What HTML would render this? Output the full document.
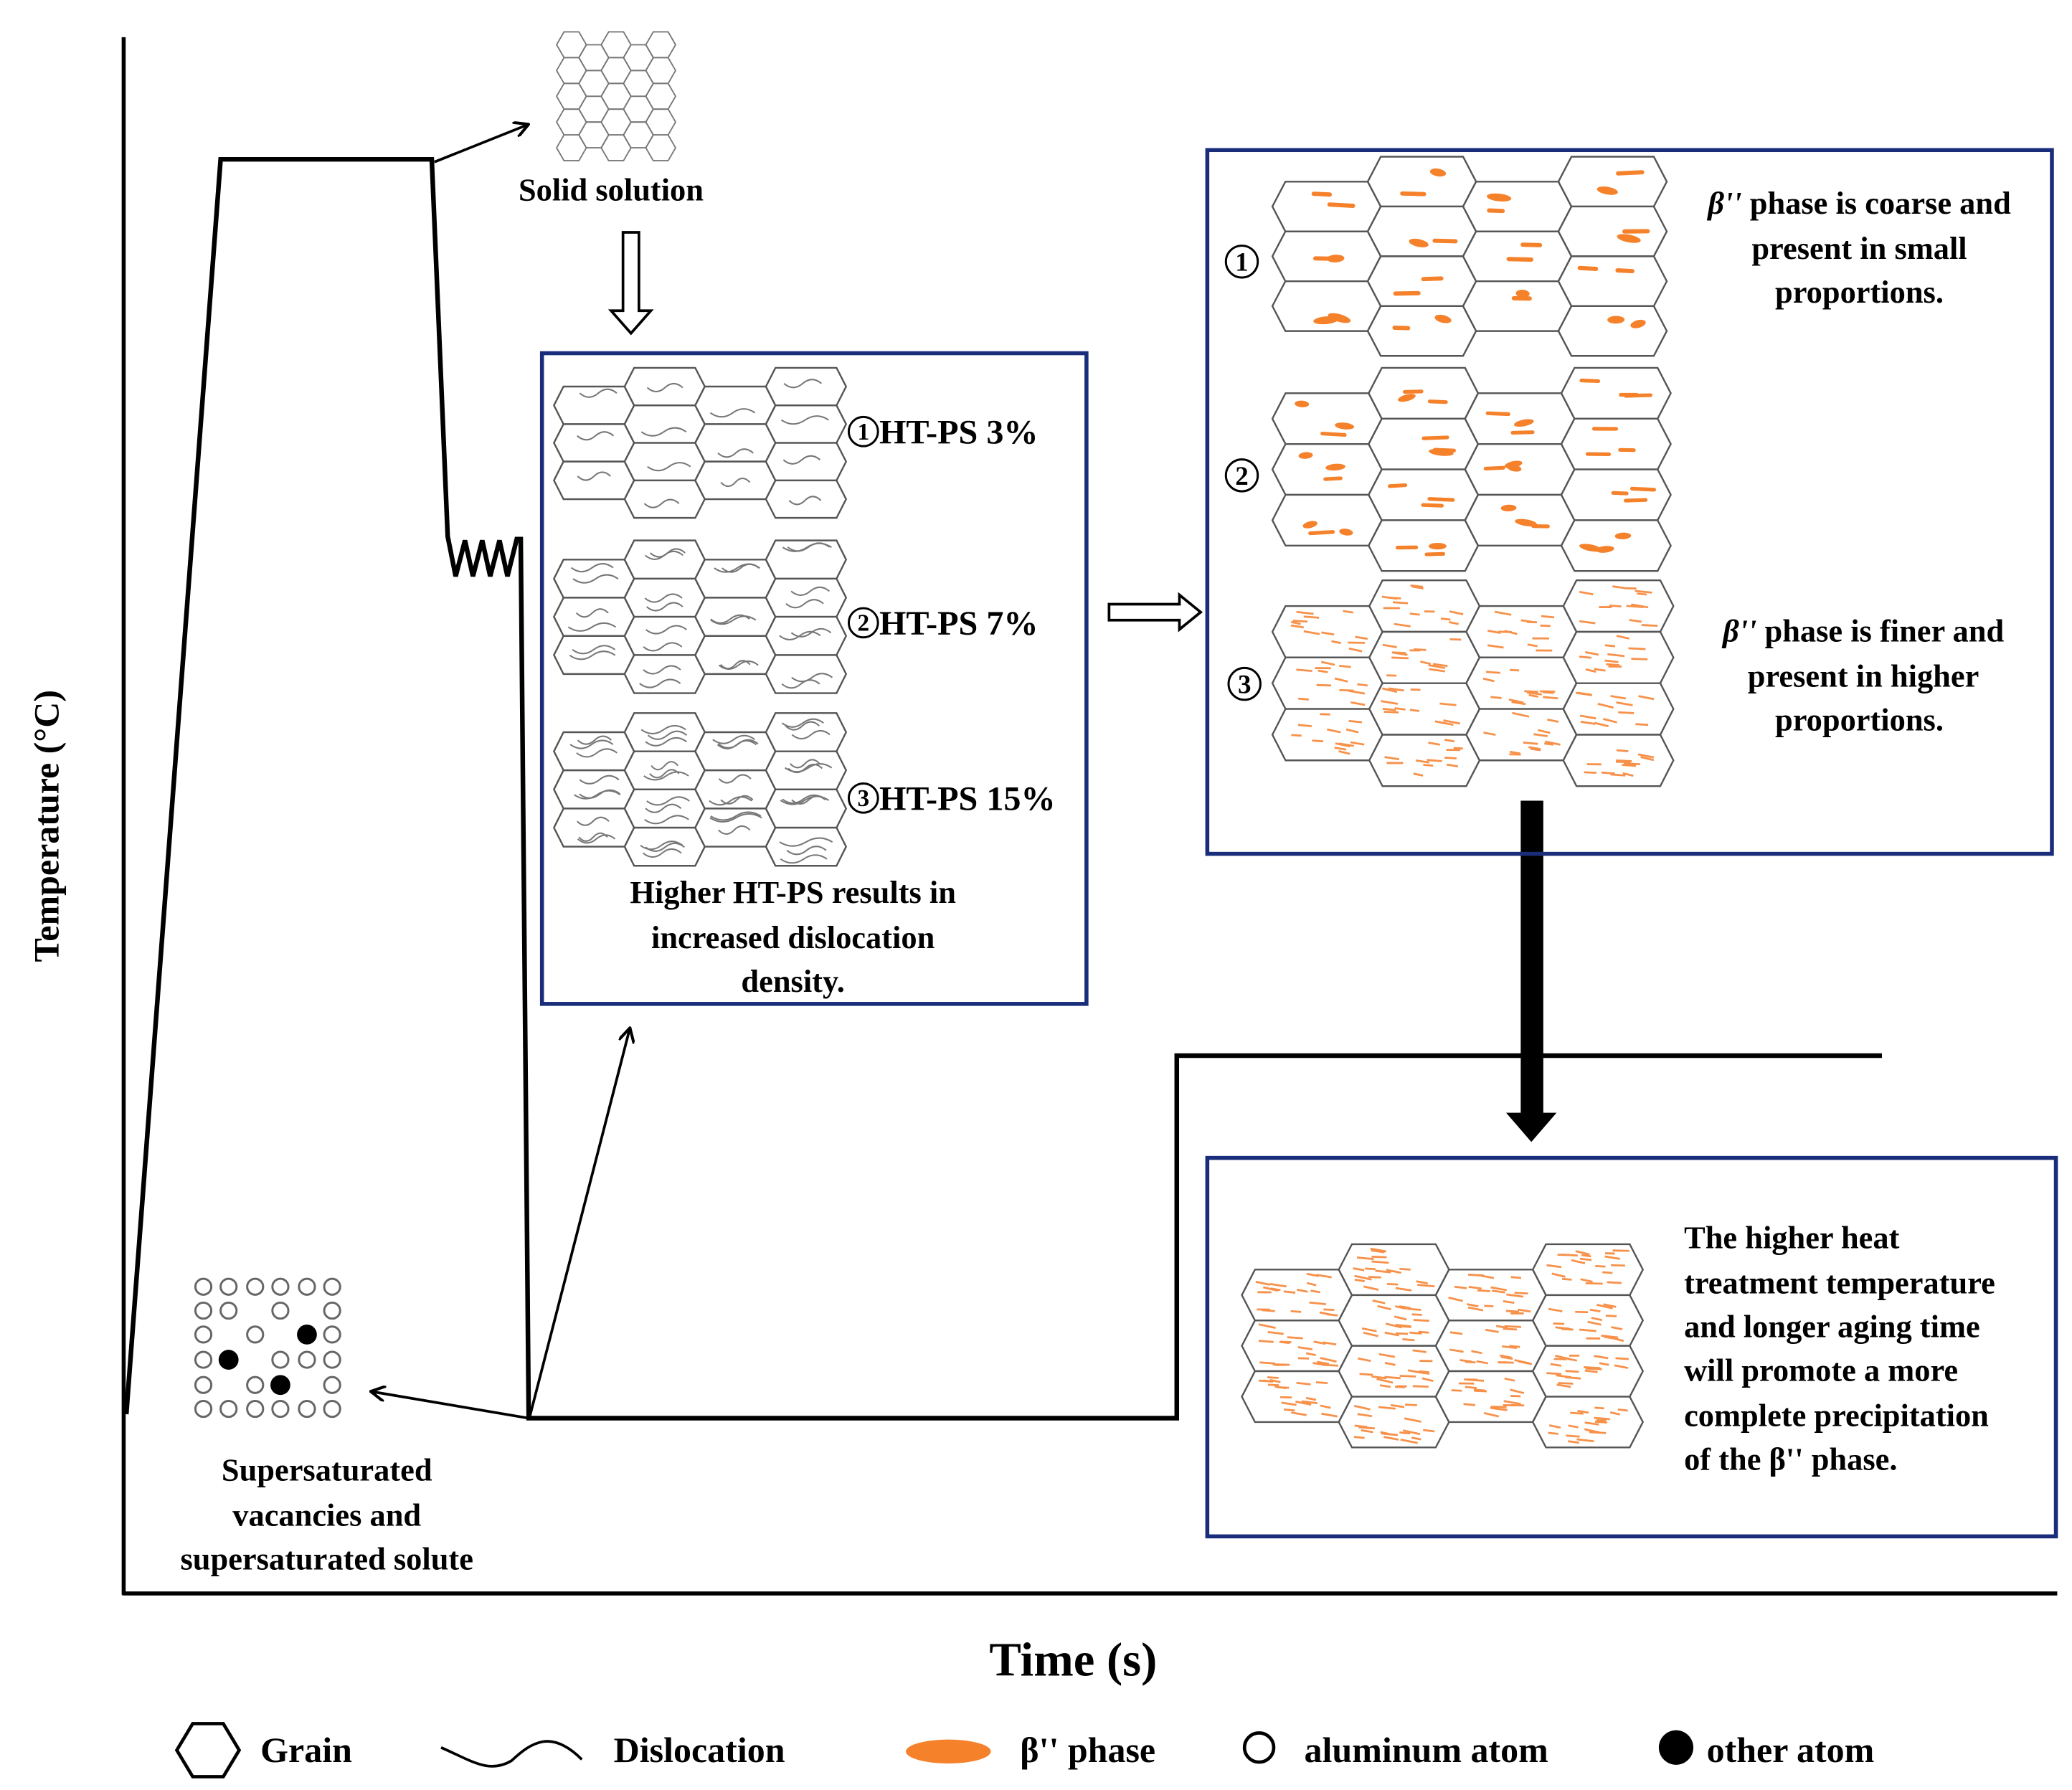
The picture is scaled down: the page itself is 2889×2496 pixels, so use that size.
<!DOCTYPE html>
<html><head><meta charset="utf-8"><style>
html,body{margin:0;padding:0;background:#fff;}
svg{display:block;}
text{font-family:"Liberation Serif",serif;font-weight:bold;fill:#000;}
</style></head><body>
<svg id="s" xmlns="http://www.w3.org/2000/svg" width="2889" height="2496" viewBox="0 0 1560 1348">
<defs>
<marker id="ah" markerWidth="12" markerHeight="12" refX="10" refY="6" orient="auto" markerUnits="userSpaceOnUse"><path d="M0,0 L11,6 L0,12" fill="none" stroke="#000" stroke-width="2.2"/></marker>
</defs>
<rect width="1560" height="1348" fill="#fff"/>
<line x1="93" y1="28" x2="93" y2="1201" stroke="#000" stroke-width="3"/>
<line x1="92" y1="1200" x2="1549" y2="1200" stroke="#000" stroke-width="3"/>
<polyline points="95,1065 166,120 325,120 337,404 343,434 350,407 356,434 363,407 369,434 376,407 382,434 389,406 392,406 398,1068 886,1068 886,795 1417,795" fill="none" stroke="#000" stroke-width="3.5" stroke-linejoin="miter"/>
<line x1="327" y1="122" x2="397" y2="94" stroke="#000" stroke-width="2" marker-end="url(#ah)"/>
<line x1="399" y1="1066" x2="474" y2="775" stroke="#000" stroke-width="2" marker-end="url(#ah)"/>
<line x1="398" y1="1068" x2="280" y2="1048" stroke="#000" stroke-width="2" marker-end="url(#ah)"/>
<path d="M469,175 L481,175 L481,234 L490,234 L475,251 L460,234 L469,234 Z" fill="#fff" stroke="#000" stroke-width="2"/>
<path d="M835,455 L888,455 L888,448 L904,461 L888,474 L888,467 L835,467 Z" fill="#fff" stroke="#000" stroke-width="2"/>
<path d="M1145,603 L1162,603 L1162,838 L1172,838 L1153,860 L1134,838 L1145,838 Z" fill="#000"/>
<rect x="408" y="266" width="410" height="490" fill="none" stroke="#1a2d7a" stroke-width="3"/>
<rect x="909" y="113" width="636" height="530" fill="none" stroke="#1a2d7a" stroke-width="3"/>
<rect x="909" y="872" width="639" height="285" fill="none" stroke="#1a2d7a" stroke-width="3"/>
<g id="dyn"></g>
<text x="460" y="151" font-size="24" text-anchor="middle">Solid solution</text>
<g fill="none" stroke="#000" stroke-width="1.6">
<circle cx="650" cy="325" r="11"/><circle cx="650" cy="469" r="11"/><circle cx="650" cy="601" r="11"/>
<circle cx="935" cy="197" r="12"/><circle cx="935" cy="358" r="12"/><circle cx="937" cy="515" r="12"/>
</g>
<g font-size="18" text-anchor="middle">
<text x="650" y="331" font-weight="normal">1</text><text x="650" y="475" font-weight="normal">2</text><text x="650" y="607" font-weight="normal">3</text>
<text x="935" y="204" font-weight="normal" font-size="20">1</text><text x="935" y="365" font-weight="normal" font-size="20">2</text><text x="937" y="522" font-weight="normal" font-size="20">3</text>
</g>
<text x="662" y="334" font-size="26">HT-PS 3%</text>
<text x="662" y="478" font-size="26">HT-PS 7%</text>
<text x="662" y="610" font-size="26">HT-PS 15%</text>
<text x="597" y="680" font-size="24" text-anchor="middle">Higher HT-PS results in</text>
<text x="597" y="714" font-size="24" text-anchor="middle">increased dislocation</text>
<text x="597" y="747" font-size="24" text-anchor="middle">density.</text>
<text x="1400" y="161" font-size="24" text-anchor="middle"><tspan font-style="italic">β''</tspan> phase is coarse and</text>
<text x="1400" y="195" font-size="24" text-anchor="middle">present in small</text>
<text x="1400" y="228" font-size="24" text-anchor="middle">proportions.</text>
<text x="1403" y="483" font-size="24" text-anchor="middle"><tspan font-style="italic">β''</tspan> phase is finer and</text>
<text x="1403" y="517" font-size="24" text-anchor="middle">present in higher</text>
<text x="1400" y="550" font-size="24" text-anchor="middle">proportions.</text>
<text x="1268" y="940" font-size="24">The higher heat</text>
<text x="1268" y="974" font-size="24">treatment temperature</text>
<text x="1268" y="1007" font-size="24">and longer aging time</text>
<text x="1268" y="1040" font-size="24">will promote a more</text>
<text x="1268" y="1074" font-size="24">complete precipitation</text>
<text x="1268" y="1107" font-size="24">of the β'' phase.</text>
<text x="246" y="1115" font-size="24" text-anchor="middle">Supersaturated</text>
<text x="246" y="1149" font-size="24" text-anchor="middle">vacancies and</text>
<text x="246" y="1182" font-size="24" text-anchor="middle">supersaturated solute</text>
<text x="808" y="1262" font-size="36" text-anchor="middle">Time (s)</text>
<text transform="translate(44,622) rotate(-90)" font-size="27" text-anchor="middle">Temperature (°C)</text>
<path d="M145,1298 L168,1298 L180,1318 L168,1338 L145,1338 L133,1318 Z" fill="none" stroke="#000" stroke-width="2.5"/>
<text x="196" y="1327" font-size="27">Grain</text>
<path d="M332,1316 C355,1326 368,1336 385,1326 C400,1312 415,1302 438,1325" fill="none" stroke="#000" stroke-width="2"/>
<text x="462" y="1327" font-size="27">Dislocation</text>
<ellipse cx="714" cy="1319" rx="32" ry="9" fill="#f5812b"/>
<text x="768" y="1327" font-size="27">β'' phase</text>
<circle cx="948" cy="1316" r="11" fill="none" stroke="#000" stroke-width="2.5"/>
<text x="982" y="1327" font-size="27">aluminum atom</text>
<circle cx="1262" cy="1316" r="13" fill="#000"/>
<text x="1285" y="1327" font-size="27">other atom</text>
</svg>
<script>
(function(){
var g=document.getElementById('dyn'),out=[];
var seed=7;function r(){seed=(seed*16807)%2147483647;return seed/2147483647;}
function hexPts(x,y,w,h,d){return [x+d,y,x+w-d,y,x+w,y+h/2,x+w-d,y+h,x+d,y+h,x,y+h/2].map(function(v){return v.toFixed(1)}).join(' ');}
function grid(x0,y0,W,H,fill){
 var h=H/4,p=W/4.136,w=1.136*p,d=w-p,cells=[];
 for(var c=0;c<4;c++){var n=c%2?4:3,yy=y0+(c%2?0:h/2);
  for(var i=0;i<n;i++){var x=x0+c*p,y=yy+i*h;cells.push([x,y,w,h,d]);
   out.push('<polygon points="'+hexPts(x,y,w,h,d)+'" fill="#fff" stroke="#555" stroke-width="1.3"/>');}}
 cells.forEach(function(k){fill(k[0],k[1],k[2],k[3],k[4]);});
}
function coarse(n,th){return function(x,y,w,h,d){for(var i=0;i<n;i++){var cx=x+d+10+r()*(w-2*d-20),cy=y+7+r()*(h-14),l=10+r()*9,a=(r()-0.5)*0.8;
 if(r()<0.5){out.push('<ellipse cx="'+cx.toFixed(1)+'" cy="'+cy.toFixed(1)+'" rx="'+(l/2).toFixed(1)+'" ry="'+(th*0.9).toFixed(1)+'" transform="rotate('+(a*40).toFixed(0)+' '+cx.toFixed(1)+' '+cy.toFixed(1)+')" fill="#f5812b"/>');}
 else out.push('<line x1="'+(cx-l/2).toFixed(1)+'" y1="'+cy.toFixed(1)+'" x2="'+(cx+l/2).toFixed(1)+'" y2="'+(cy+l/2*a*0.3).toFixed(1)+'" stroke="#f5812b" stroke-width="'+th+'" stroke-linecap="round"/>');}};}
function fine(n){return function(x,y,w,h,d){for(var i=0;i<n;i++){var cx=x+d+5+r()*(w-2*d-10),cy=y+4+r()*(h-8),l=7+r()*6,a=r()*0.25;
 out.push('<line x1="'+(cx-l/2).toFixed(1)+'" y1="'+(cy-l/2*a).toFixed(1)+'" x2="'+(cx+l/2).toFixed(1)+'" y2="'+(cy+l/2*a).toFixed(1)+'" stroke="#f7914a" stroke-width="1.5"/>');}};}
function disl(n){return function(x,y,w,h,d){for(var i=0;i<n;i++){var cy=y+5+r()*(h-10),x1=x+d+3+r()*10,x2=x+w-d-3-r()*10,m=(x1+x2)/2;
 out.push('<path d="M'+x1.toFixed(1)+','+cy.toFixed(1)+' Q'+((x1+m)/2).toFixed(1)+','+(cy+6).toFixed(1)+' '+m.toFixed(1)+','+cy.toFixed(1)+' T'+x2.toFixed(1)+','+cy.toFixed(1)+'" fill="none" stroke="#777" stroke-width="1.1"/>');}};}
grid(417,277,220,113,disl(1));
grid(417,407,220,115,disl(2));
grid(417,537,220,115,disl(3));
grid(958,118,297,150,coarse(2,3.2));
grid(958,277,300,153,coarse(3,2.8));
grid(958,437,302,155,fine(12));
grid(935,937,302,153,fine(18));
var s=11.2,rh=Math.sqrt(3)*s;
for(var c=0;c<5;c++)for(var rr=0;rr<5;rr++){var cx=419+s+c*1.5*s,cy=24+rh/2+rr*rh+(c%2?rh/2:0);
 if(cy+rh/2>126)continue;var pts=[];for(var k=0;k<6;k++){var a=Math.PI/3*k;pts.push((cx+s*Math.cos(a)).toFixed(1)+','+(cy+s*Math.sin(a)).toFixed(1));}
 out.push('<polygon points="'+pts.join(' ')+'" fill="none" stroke="#777" stroke-width="1"/>');}
var pat=["oooooo","oo.o.o","o.o.bo","ob.ooo","o.ob.o","oooooo"];
var xs=[153,172,192,211,231,250],ys=[969,987,1005,1024,1043,1061];
for(var i=0;i<6;i++)for(var j=0;j<6;j++){var ch=pat[i][j];if(ch=='o')out.push('<circle cx="'+xs[j]+'" cy="'+ys[i]+'" r="6" fill="none" stroke="#666" stroke-width="1.6"/>');
 else if(ch=='b')out.push('<circle cx="'+xs[j]+'" cy="'+ys[i]+'" r="7.5" fill="#000"/>');}
g.innerHTML=out.join('');
})();
</script>
</body></html>
